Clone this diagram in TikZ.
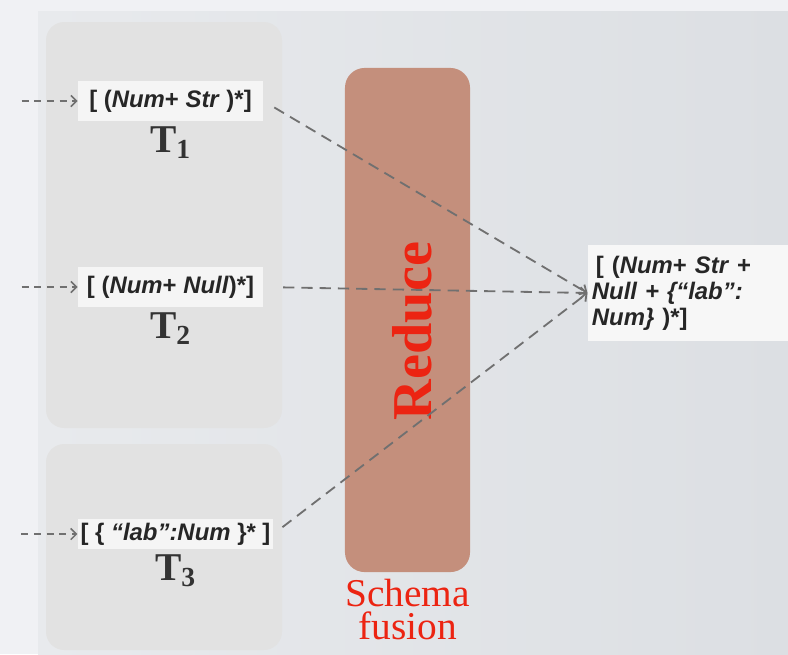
\documentclass[tikz,border=0pt]{standalone}
\usepackage{fontspec}
\setmainfont{Liberation Serif}
\newfontfamily\lblfont{Liberation Sans}
\usetikzlibrary{arrows.meta,positioning}

\definecolor{panelgray}{RGB}{226,226,226}
\definecolor{reducebrown}{RGB}{196,143,124}
\definecolor{fusionred}{RGB}{236,36,18}
\definecolor{flowgray}{RGB}{112,112,112}
\definecolor{backlight}{RGB}{240,241,244}
\definecolor{backleft}{RGB}{232,234,237}
\definecolor{backright}{RGB}{220,223,227}

\begin{document}
\begin{tikzpicture}[x=0.025cm,y=-0.025cm,>={Straight Barb[length=4pt,width=8pt]}]
  \tikzstyle{panel}=[fill=panelgray,rounded corners=13pt]
  \tikzstyle{lbl}=[fill=white!96!black,minimum height=1cm,inner sep=2pt,font=\lblfont\bfseries\fontsize{17}{19}\selectfont,text=black!85]
  \tikzstyle{tname}=[font=\bfseries\fontsize{28}{30}\selectfont,text=black!80]
  \tikzstyle{flow}=[line width=1.3pt,dash pattern=on 8pt off 5pt,draw=flowgray,->]
  \tikzstyle{feed}=[flow,line width=1.1pt,dash pattern=on 5pt off 4pt]
  \useasboundingbox (0,0) rectangle (788,654);
  % backdrop
  \fill[backlight] (0,0) rectangle (788,654);
  \shade[left color=backleft,right color=backright] (38,11) rectangle (788,654);
  \fill[panel] (46,22) rectangle (282,428);
  \fill[panel] (46,444) rectangle (282,650);

  % the three input types
  \node[lbl,minimum width=4.63cm] (t1) at (170.5,101) {[ (\textit{Num}+ \textit{Str} )*]};
  \node[tname,below=0pt of t1] (n1) {T\textsubscript{1}};
  \node[lbl,minimum width=4.63cm] (t2) at (170.5,287) {[ (\textit{Num}+ \textit{Null})*]};
  \node[tname,below=0pt of t2] (n2) {T\textsubscript{2}};
  \node[lbl,minimum width=4.88cm,minimum height=0.75cm] (t3) at (175.5,534) {[ \{ \textit{“lab”:Num} \}* ]};
  \node[tname,below=0pt of t3] (n3) {T\textsubscript{3}};

  % reduce step
  \node[fill=reducebrown,rounded corners=14pt,minimum width=3.125cm,minimum height=12.6cm] (reduce) at (407.5,320) {};
  \node[rotate=90,font=\bfseries\fontsize{40}{40}\selectfont,text=fusionred] (rlab) at (412,331) {Reduce};
  \node[below=1pt of reduce,align=center,font=\fontsize{28}{23.5}\selectfont,text=fusionred] (fusion) {Schema\\fusion};

  % fused type
  \node[fill=white!97!black,minimum width=5cm,minimum height=2.4cm,text width=4.8cm,align=left,inner sep=3pt,font=\lblfont\bfseries\fontsize{17}{18.5}\selectfont,text=black!85] (out) at (688,293)
    {\,[ (\textit{Num}+ \textit{Str} +\\\textit{Null + \{“lab”:}\\\textit{Num\}} )*]};

  \coordinate[left=1.4cm of t1.west] (in1);
  \coordinate[left=1.4cm of t2.west] (in2);
  \coordinate[left=1.4cm of t3.west] (in3);
  \draw[feed] (in1) -- (t1.west);
  \draw[feed] (in2) -- (t2.west);
  \draw[feed] (in3) -- (t3.west);

  \draw[flow,shorten <=9pt] (t1.east) -- (out.west);
  \draw[flow,shorten <=14pt] (t2.east) -- (out.west);
  \draw[flow,shorten <=8pt] (t3.east) -- (out.west);
\end{tikzpicture}
\end{document}
